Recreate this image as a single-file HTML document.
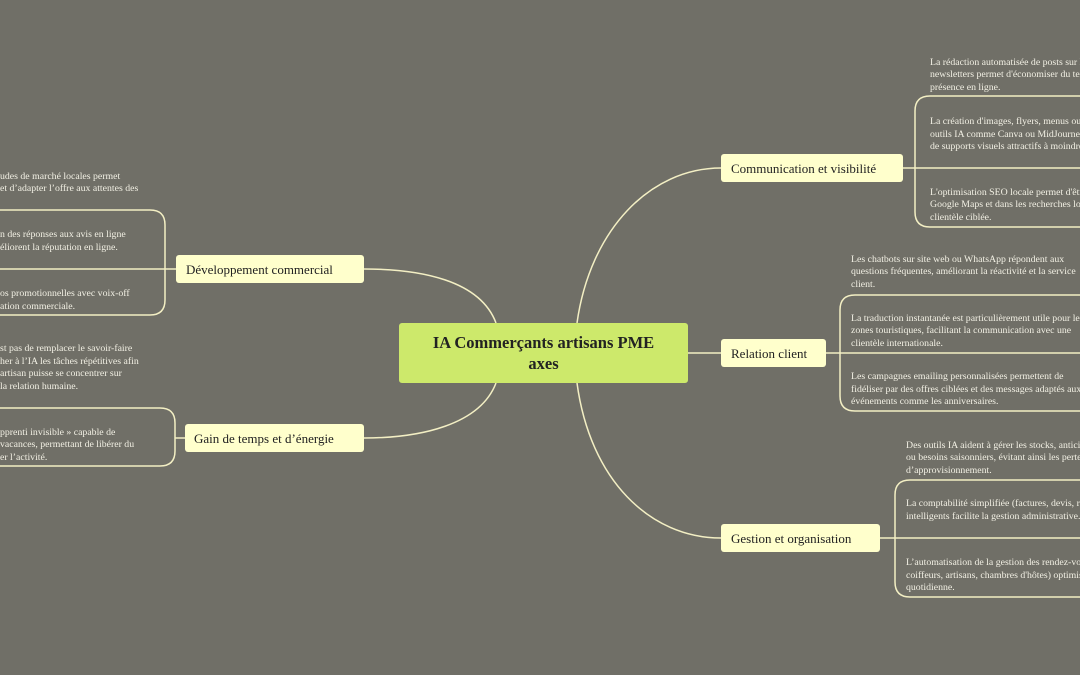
<!DOCTYPE html>
<html><head><meta charset="utf-8"><style>
html,body{margin:0;padding:0;background:#706f67;}
svg{display:block}
.t{font-family:"Liberation Serif",serif;font-size:9.8px;fill:#f2f0e4}
.n{font-family:"Liberation Serif",serif;font-size:13px;fill:#222}
</style></head><body>
<svg width="1080" height="675" viewBox="0 0 1080 675">
<rect width="1080" height="675" fill="#706f67"/>
<g fill="none" stroke="#f3efc4" stroke-width="1.5">
<path d="M577 323 C 590 230, 650 168, 721 168"/>
<path d="M688 353 H721"/>
<path d="M577 383 C 590 480, 650 538, 721 538"/>
<path d="M496 323 C 480 280, 420 269, 364 269"/>
<path d="M496 383 C 480 425, 420 438, 364 438"/>
<path d="M1080 96 H930 Q915 96 915 111 V212 Q915 227 930 227 H1080"/>
<path d="M903 168 H1080"/>
<path d="M1080 295 H855 Q840 295 840 310 V396 Q840 411 855 411 H1080"/>
<path d="M826 353 H1080"/>
<path d="M1080 480 H910 Q895 480 895 495 V582 Q895 597 910 597 H1080"/>
<path d="M880 538 H1080"/>
<path d="M0 210 H150 Q165 210 165 225 V300 Q165 315 150 315 H0"/>
<path d="M176 269 H0"/>
<path d="M0 408 H160 Q175 408 175 423 V451 Q175 466 160 466 H0"/>
<path d="M185 438 H175"/>
</g>
<rect x="399" y="323" width="289" height="60" rx="3" fill="#cde96b"/>
<text x="543.5" y="348" text-anchor="middle" font-family="Liberation Serif,serif" font-weight="bold" font-size="16.5" fill="#222">IA Commerçants artisans PME</text>
<text x="543.5" y="369" text-anchor="middle" font-family="Liberation Serif,serif" font-weight="bold" font-size="16.5" fill="#222">axes</text>
<g fill="#ffffcc">
<rect x="721" y="154" width="182" height="28" rx="3"/>
<rect x="721" y="339" width="105" height="28" rx="3"/>
<rect x="721" y="524" width="159" height="28" rx="3"/>
<rect x="176" y="255" width="188" height="28" rx="3"/>
<rect x="185" y="424" width="179" height="28" rx="3"/>
</g>
<text class="n" x="731" y="173">Communication et visibilité</text>
<text class="n" x="731" y="358">Relation client</text>
<text class="n" x="731" y="543">Gestion et organisation</text>
<text class="n" x="186" y="274">Développement commercial</text>
<text class="n" x="194" y="443">Gain de temps et d’énergie</text>
<g class="t">
<text x="930" y="65">La rédaction automatisée de posts sur les réseaux et de</text>
<text x="930" y="77">newsletters permet d'économiser du temps tout en gardant une</text>
<text x="930" y="90">présence en ligne.</text>
<text x="930" y="124">La création d'images, flyers, menus ou vidéos avec des</text>
<text x="930" y="137">outils IA comme Canva ou MidJourney permet de disposer</text>
<text x="930" y="149">de supports visuels attractifs à moindre coût.</text>
<text x="930" y="195">L'optimisation SEO locale permet d'être mieux visible sur</text>
<text x="930" y="207">Google Maps et dans les recherches locales pour attirer une</text>
<text x="930" y="220">clientèle ciblée.</text>
<text x="851" y="262">Les chatbots sur site web ou WhatsApp répondent aux</text>
<text x="851" y="274">questions fréquentes, améliorant la réactivité et la service</text>
<text x="851" y="287">client.</text>
<text x="851" y="321">La traduction instantanée est particulièrement utile pour les</text>
<text x="851" y="333">zones touristiques, facilitant la communication avec une</text>
<text x="851" y="346">clientèle internationale.</text>
<text x="851" y="379">Les campagnes emailing personnalisées permettent de</text>
<text x="851" y="392">fidéliser par des offres ciblées et des messages adaptés aux</text>
<text x="851" y="404">événements comme les anniversaires.</text>
<text x="906" y="448">Des outils IA aident à gérer les stocks, anticiper la demande</text>
<text x="906" y="460">ou besoins saisonniers, évitant ainsi les pertes et ruptures</text>
<text x="906" y="473">d’approvisionnement.</text>
<text x="906" y="506">La comptabilité simplifiée (factures, devis, relances) via outils</text>
<text x="906" y="519">intelligents facilite la gestion administrative.</text>
<text x="906" y="565">L’automatisation de la gestion des rendez-vous (pour</text>
<text x="906" y="578">coiffeurs, artisans, chambres d'hôtes) optimise l'organisation</text>
<text x="906" y="590">quotidienne.</text>
<text x="0" y="179">udes de marché locales permet</text>
<text x="0" y="191">et d’adapter l’offre aux attentes des</text>
<text x="0" y="237">n des réponses aux avis en ligne</text>
<text x="0" y="250">éliorent la réputation en ligne.</text>
<text x="0" y="296">os promotionnelles avec voix-off</text>
<text x="0" y="309">ation commerciale.</text>
<text x="0" y="351">st pas de remplacer le savoir-faire</text>
<text x="0" y="364">her à l’IA les tâches répétitives afin</text>
<text x="0" y="376">artisan puisse se concentrer sur</text>
<text x="0" y="389">la relation humaine.</text>
<text x="0" y="435">pprenti invisible » capable de</text>
<text x="0" y="447">vacances, permettant de libérer du</text>
<text x="0" y="460">er l’activité.</text>
</g>
</svg>
</body></html>
